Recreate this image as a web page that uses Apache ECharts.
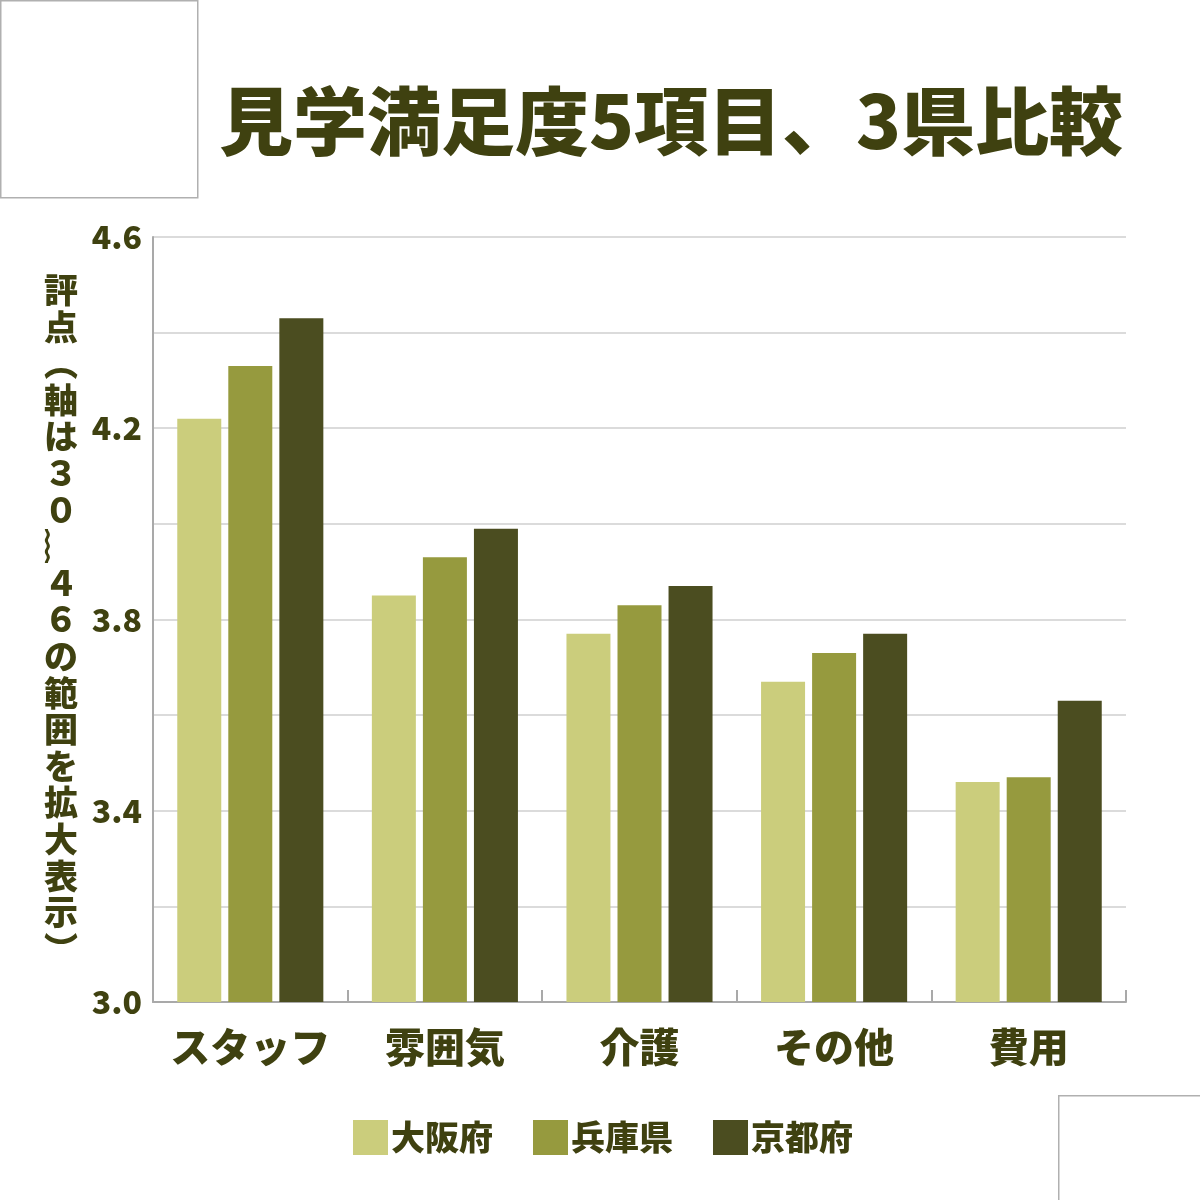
<!DOCTYPE html>
<html>
<head>
<meta charset="utf-8">
<script src="https://cdn.jsdelivr.net/npm/echarts@6/dist/echarts.min.js"></script>
<style>
  html, body { margin: 0; padding: 0; background: #fff; }
  #chart { width: 1200px; height: 1200px; }
</style>
</head>
<body>
<div id="chart"></div>
<script>
/* 見学満足度 chart */
const categories = ["スタッフ", "雰囲気", "介護", "その他", "費用"];
const osaka = [4.22, 3.85, 3.77, 3.67, 3.46];
const hyogo = [4.33, 3.93, 3.83, 3.73, 3.47];
const kyoto = [4.43, 3.99, 3.87, 3.77, 3.63];
const seriesNames = ["大阪府", "兵庫県", "京都府"];
const yTickLabels = ["3.0", "3.4", "3.8", "4.2", "4.6"];
const yName = "評点（軸は３０～４６の範囲を拡大表示）";

const textColor = "#3f4110";
const font = "Noto Sans CJK JP";
const heavy = 900;
const colors = ["#cbcd7c", "#969a3e", "#4b4d20"];

// stack the axis name vertically, using vertical forms for brackets
const verticalMap = { "（": "︵", "）": "︶", "～": "︴" };
const yNameVertical = yName.split("").map((c) => verticalMap[c] || c).join("\n");

const chart = echarts.init(document.getElementById("chart"));

const option = {
  backgroundColor: "#fff",
  animation: false,
  textStyle: { fontFamily: font },
  title: {
    text: "見学満足度5項目、3県比較",
    left: 666,
    top: 79,
    textAlign: "center",
    textStyle: {
      fontFamily: font,
      fontSize: 74,
      fontWeight: heavy,
      color: textColor,
    },
  },
  legend: {
    left: 348,
    top: 1115,
    itemWidth: 35,
    itemHeight: 35,
    itemGap: 40,
    icon: "rect",
    data: seriesNames,
    textStyle: {
      fontFamily: font,
      fontSize: 34,
      fontWeight: heavy,
      color: textColor,
      padding: [0, 0, 0, -2],
    },
  },
  grid: {
    left: 153,
    right: 74,
    top: 237,
    bottom: 198,
    containLabel: false,
  },
  xAxis: {
    type: "category",
    data: categories,
    axisLine: { lineStyle: { color: "#a9a9a9", width: 2 } },
    axisTick: { show: true, inside: true, length: 12, lineStyle: { color: "#a9a9a9", width: 2 } },
    axisLabel: {
      interval: 0,
      margin: 25,
      fontFamily: font,
      fontSize: 40,
      fontWeight: heavy,
      color: textColor,
    },
  },
  yAxis: {
    type: "value",
    min: 3.0,
    max: 4.6,
    interval: 0.2,
    name: yNameVertical,
    nameLocation: "middle",
    nameGap: 92,
    nameRotate: 0,
    nameTextStyle: {
      fontFamily: font,
      fontSize: 34,
      fontWeight: heavy,
      color: textColor,
      lineHeight: 36.6,
      align: "center",
      verticalAlign: "middle",
    },
    axisLine: { show: true, lineStyle: { color: "#a9a9a9", width: 2 } },
    axisTick: { show: false },
    splitLine: { lineStyle: { color: "#cfcfcf", width: 1.5 } },
    axisLabel: {
      margin: 11,
      fontFamily: font,
      fontSize: 32,
      fontWeight: heavy,
      color: textColor,
      formatter: function (v) {
        const s = v.toFixed(1);
        return yTickLabels.indexOf(s) >= 0 ? s : "";
      },
    },
  },
  series: [
    { name: seriesNames[0], type: "bar", data: osaka, barWidth: 44, barGap: "16%", itemStyle: { color: colors[0] } },
    { name: seriesNames[1], type: "bar", data: hyogo, barWidth: 44, barGap: "16%", itemStyle: { color: colors[1] } },
    { name: seriesNames[2], type: "bar", data: kyoto, barWidth: 44, barGap: "16%", itemStyle: { color: colors[2] } },
  ],
  graphic: [
    {
      type: "rect",
      left: 0,
      top: 0,
      shape: { width: 197, height: 197 },
      style: { fill: "#fff", stroke: "#b0b0b0", lineWidth: 1.5 },
    },
    {
      type: "rect",
      left: 1058,
      top: 1095,
      shape: { width: 145, height: 110 },
      style: { fill: "#fff", stroke: "#b0b0b0", lineWidth: 1.5 },
    },
  ],
};

chart.setOption(option);
</script>
</body>
</html>
